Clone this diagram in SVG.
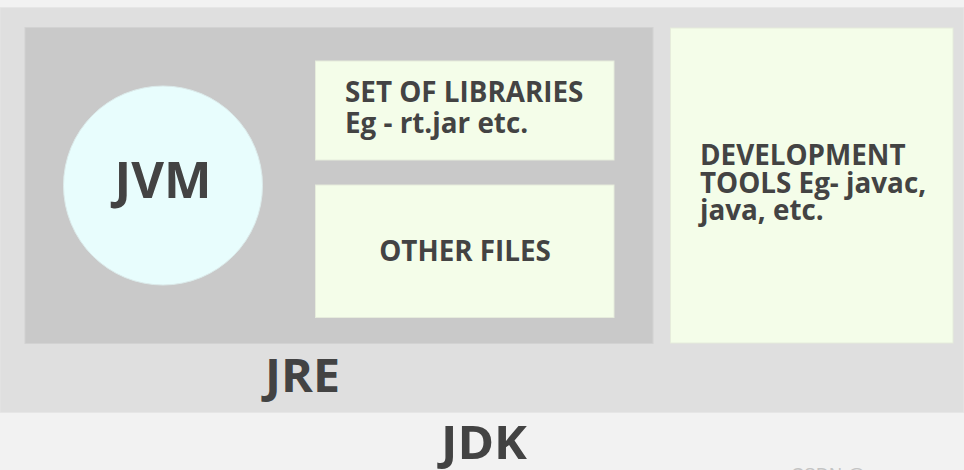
<svg xmlns="http://www.w3.org/2000/svg" width="964" height="470" viewBox="0 0 964 470">
  <style>
    .lbl { font-family: "Open Sans", "Noto Sans", "DejaVu Sans", sans-serif; font-weight: 700; fill: #434343; }
    .box { fill: #f4fde9; stroke: #e6ecdc; stroke-width: 1; }
    .big { font-size: 47px; }
    .mid { font-size: 27.8px; }
  </style>

  <!-- page background -->
  <rect x="0" y="0" width="964" height="470" fill="#f2f2f2"/>

  <!-- JDK container -->
  <g id="jdk">
    <rect x="0" y="7.5" width="964" height="405" fill="#dfdfdf" stroke="#e6e6e6" stroke-width="1"/>
    <text class="lbl big" x="484" y="459" text-anchor="middle" textLength="86" lengthAdjust="spacingAndGlyphs">JDK</text>
  </g>

  <!-- JRE container -->
  <g id="jre">
    <rect x="25" y="27.5" width="628" height="316" fill="#c9c9c9" stroke="#d2d2d2" stroke-width="1"/>
    <text class="lbl big" x="302.5" y="392" text-anchor="middle" textLength="75" lengthAdjust="spacingAndGlyphs">JRE</text>
  </g>

  <!-- JVM -->
  <g id="jvm">
    <circle cx="163" cy="185.5" r="99.5" fill="#e8fdfd" stroke="#dcebeb" stroke-width="1"/>
    <text class="lbl" x="163" y="197.5" font-size="50" text-anchor="middle" textLength="97" lengthAdjust="spacingAndGlyphs">JVM</text>
  </g>

  <!-- class libraries -->
  <g id="libraries">
    <rect class="box" x="315.5" y="61" width="298.5" height="99"/>
    <text class="lbl mid" x="345" y="101.5">SET OF LIBRARIES</text>
    <text class="lbl mid" x="345" y="132.5">Eg - rt.jar etc.</text>
  </g>

  <!-- other files -->
  <g id="other-files">
    <rect class="box" x="315.5" y="185" width="298.5" height="132.5"/>
    <text class="lbl mid" x="465" y="261" text-anchor="middle">OTHER FILES</text>
  </g>

  <!-- development tools -->
  <g id="dev-tools">
    <rect class="box" x="670.5" y="28" width="282.5" height="315"/>
    <text class="lbl mid" x="700" y="165">DEVELOPMENT</text>
    <text class="lbl mid" x="700" y="192.5">TOOLS Eg- javac,</text>
    <text class="lbl mid" x="700" y="220">java, etc.</text>
  </g>

  <!-- connectors: none -->
  <g id="connectors"/>

  <!-- watermark, cut by the lower edge -->
  <text x="791" y="481" font-family="'Liberation Sans', Arial, sans-serif" font-size="18" fill="#c4c4c4">CSDN @</text>
</svg>
